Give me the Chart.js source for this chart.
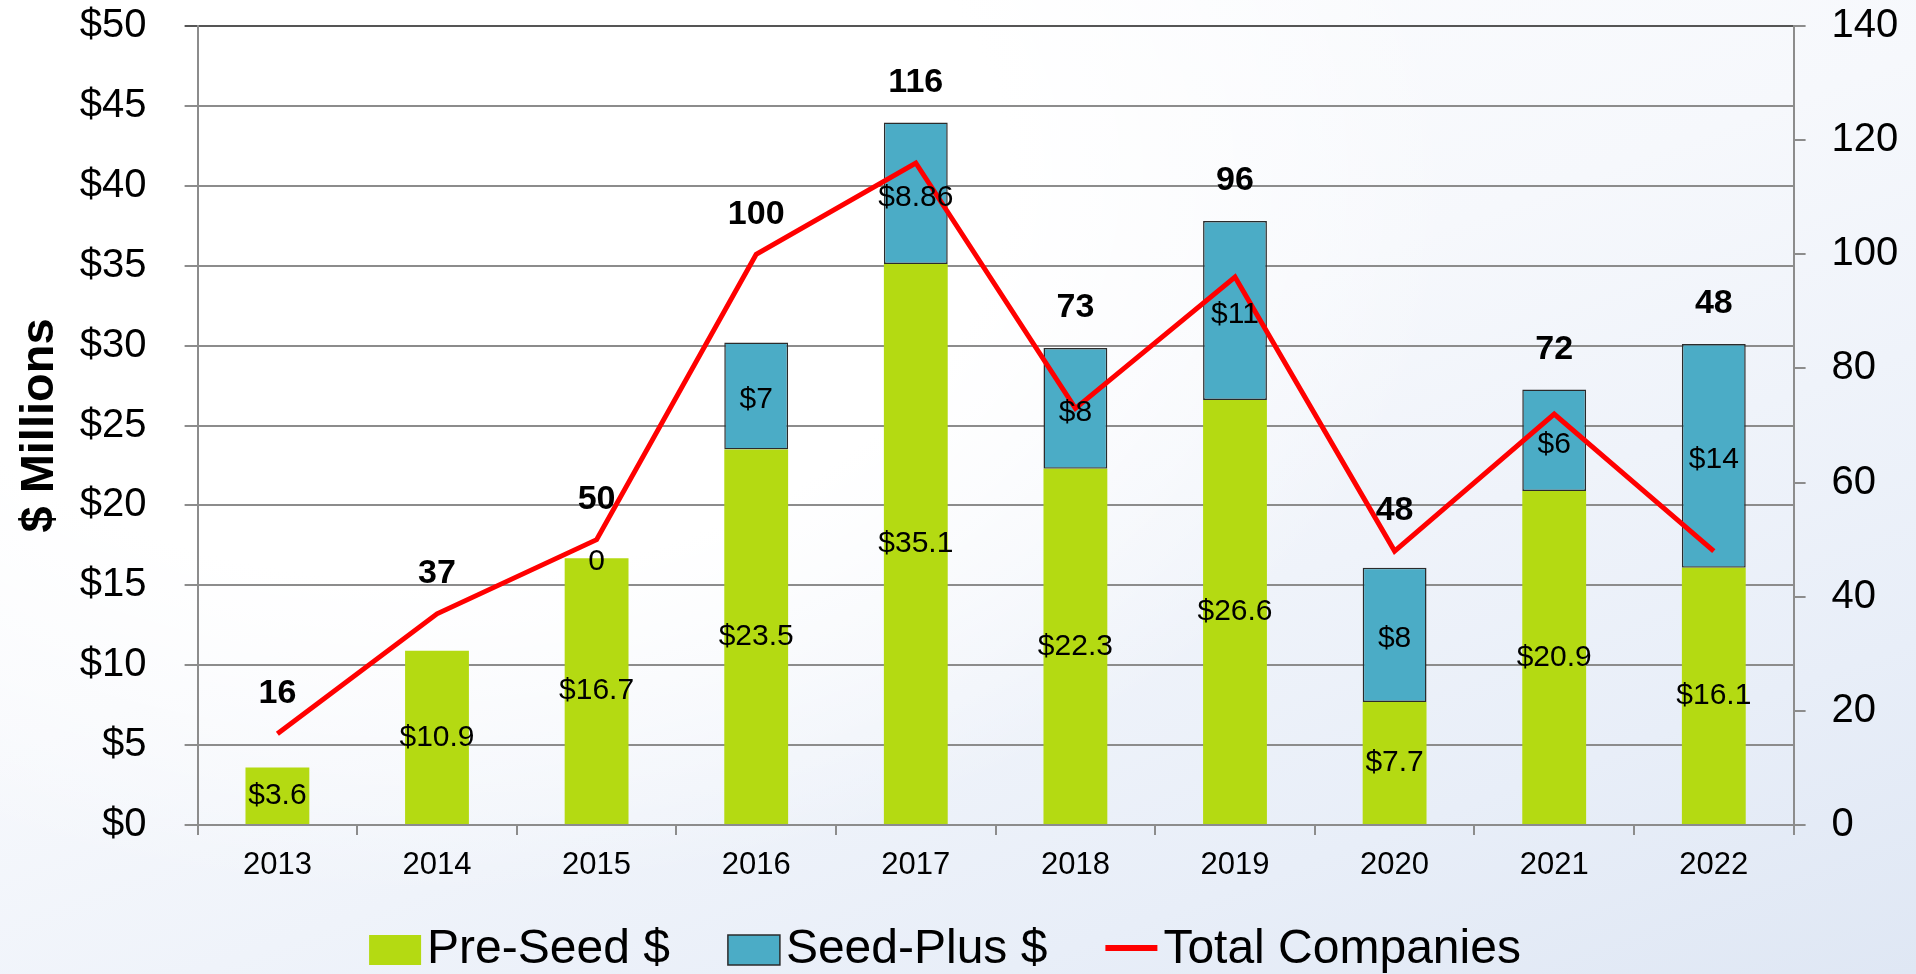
<!DOCTYPE html>
<html>
<head>
<meta charset="utf-8">
<script src="https://cdn.jsdelivr.net/npm/chart.js@4.4.1/dist/chart.umd.min.js"></script>
<style>
html, body { margin: 0; padding: 0; width: 1916px; height: 974px; overflow: hidden; }
body {
  background:
    radial-gradient(ellipse 1300px 900px at 22% 18%, #ffffff 0%, #ffffff 45%, rgba(255,255,255,0) 80%),
    linear-gradient(160deg, #ffffff 0%, #f6f8fc 45%, #e8eef8 80%, #dfe7f4 100%);
}
#wrap { position: relative; width: 1916px; height: 974px; }
</style>
</head>
<body>
<div id="wrap"><canvas id="c" width="1916" height="974"></canvas></div>
<script>
// ---------- data ----------
const years = ['2013', '2014', '2015', '2016', '2017', '2018', '2019', '2020', '2021', '2022'];
const preSeed = [3.6, 10.9, 16.7, 23.5, 35.1, 22.3, 26.6, 7.7, 20.9, 16.1];
const seedPlus = [null, null, 0, 6.7, 8.86, 7.55, 11.2, 8.4, 6.35, 14.0];
const seedPlusLabels = ['', '', '0', '$7', '$8.86', '$8', '$11', '$8', '$6', '$14'];
const totalCompanies = [16, 37, 50, 100, 116, 73, 96, 48, 72, 48];
const seriesNames = ['Pre-Seed $', 'Seed-Plus $', 'Total Companies'];
const leftAxisTitle = '$ Millions';

// ---------- styles ----------
const FONT = "'Liberation Sans', Arial, Helvetica, sans-serif";
const GREEN = '#b4da12';
const TEAL = '#4bacc6';
const RED = '#ff0000';
const GRID = '#8c8c8c';

Chart.defaults.font.family = FONT;
Chart.defaults.color = '#000';

const labelPlugin = {
  id: 'customLabels',
  afterDatasetsDraw(chart) {
    const ctx = chart.ctx;
    const lineMeta = chart.getDatasetMeta(0);
    const preMeta = chart.getDatasetMeta(1);
    const seedMeta = chart.getDatasetMeta(2);
    ctx.save();
    ctx.fillStyle = '#000';
    ctx.textAlign = 'center';
    ctx.textBaseline = 'middle';

    // values inside bars
    ctx.font = '30px ' + FONT;
    preMeta.data.forEach((bar, i) => {
      ctx.fillText('$' + preSeed[i], bar.x, (bar.y + bar.base) / 2);
    });
    seedMeta.data.forEach((bar, i) => {
      if (!seedPlusLabels[i] || seedPlus[i] == null) return;
      ctx.fillText(seedPlusLabels[i], bar.x, (bar.y + bar.base) / 2 + 4);
    });

    // company counts (bold) above the higher of line point / bar top
    ctx.font = 'bold 34px ' + FONT;
    lineMeta.data.forEach((pt, i) => {
      let top = Math.min(pt.y, preMeta.data[i].y);
      if (seedPlus[i] != null && isFinite(seedMeta.data[i].y)) top = Math.min(top, seedMeta.data[i].y);
      ctx.fillText(String(totalCompanies[i]), pt.x, top - 40);
    });

    // legend
    ctx.font = '48px ' + FONT;
    ctx.textAlign = 'left';
    const boxW = 52, boxH = 30, gap = 6, itemGap = 58;
    const widths = seriesNames.map(n => boxW + gap + ctx.measureText(n).width);
    const total = widths.reduce((a, b) => a + b, 0) + itemGap * (seriesNames.length - 1);
    let x = chart.width / 2 - 13 - total / 2;
    const cy = 950;
    const ds = chart.data.datasets;
    const order = [1, 2, 0];
    order.forEach((di, k) => {
      const d = ds[di];
      if (d.type === 'line') {
        ctx.strokeStyle = d.borderColor;
        ctx.lineWidth = 6;
        ctx.beginPath();
        ctx.moveTo(x, cy - 2);
        ctx.lineTo(x + boxW, cy - 2);
        ctx.stroke();
      } else {
        ctx.fillStyle = d.backgroundColor;
        ctx.fillRect(x, cy - boxH / 2, boxW, boxH);
        if (di === 2) {
          ctx.strokeStyle = '#2b2b2b';
          ctx.lineWidth = 1.5;
          ctx.strokeRect(x, cy - boxH / 2, boxW, boxH);
        }
      }
      ctx.fillStyle = '#000';
      ctx.fillText(d.label, x + boxW + gap, cy);
      x += widths[k] + itemGap;
    });
    ctx.restore();
  }
};

function trimVerticalPadding(s) {
  s.paddingTop = 0;
  s.paddingBottom = 0;
}

new Chart(document.getElementById('c'), {
  type: 'bar',
  data: {
    labels: years,
    datasets: [
      {
        type: 'line',
        label: seriesNames[2],
        data: totalCompanies,
        yAxisID: 'y1',
        borderColor: RED,
        backgroundColor: RED,
        borderWidth: 5,
        pointRadius: 0,
        tension: 0,
        borderJoinStyle: 'miter',
        order: 0
      },
      {
        label: seriesNames[0],
        data: preSeed,
        yAxisID: 'y',
        backgroundColor: GREEN,
        borderWidth: 0,
        stack: 's',
        order: 1,
        barPercentage: 0.4,
        categoryPercentage: 1
      },
      {
        label: seriesNames[1],
        data: seedPlus,
        yAxisID: 'y',
        backgroundColor: TEAL,
        borderColor: '#2b2b2b',
        borderWidth: c => (c.raw ? 1.5 : 0),
        borderSkipped: false,
        stack: 's',
        order: 1,
        barPercentage: 0.4,
        categoryPercentage: 1
      }
    ]
  },
  options: {
    responsive: false,
    animation: false,
    events: [],
    layout: { padding: { top: 26, left: 0, right: 0, bottom: 0 } },
    plugins: { legend: { display: false }, tooltip: { enabled: false } },
    scales: {
      x: {
        stacked: true,
        grid: { drawOnChartArea: false, offset: true, tickLength: 10, color: GRID, lineWidth: 2 },
        border: { color: GRID, width: 2 },
        ticks: { font: { size: 31 }, padding: 12, color: '#000' },
        afterFit(s) { s.height = 149; }
      },
      y: {
        stacked: true,
        position: 'left',
        min: 0, max: 50,
        ticks: { stepSize: 5, callback: v => '$' + v, font: { size: 40 }, padding: 38, color: '#000' },
        grid: {
          color: c => (c.tick && c.tick.value === 50 ? '#555555' : GRID),
          lineWidth: 2,
          tickLength: 13
        },
        border: { color: GRID, width: 2 },
        title: { display: true, text: leftAxisTitle, font: { size: 47, weight: 'bold' }, padding: { top: 12, bottom: 0 }, color: '#000' },
        afterFit(s) { s.width = 197.6; trimVerticalPadding(s); }
      },
      y1: {
        position: 'right',
        min: 0, max: 140,
        ticks: { stepSize: 20, font: { size: 40 }, padding: 26, color: '#000' },
        grid: { drawOnChartArea: false, tickLength: 12, color: GRID, lineWidth: 2 },
        border: { color: GRID, width: 2 },
        afterFit(s) { s.width = 122.4; trimVerticalPadding(s); }
      }
    }
  },
  plugins: [labelPlugin]
});
</script>
</body>
</html>
